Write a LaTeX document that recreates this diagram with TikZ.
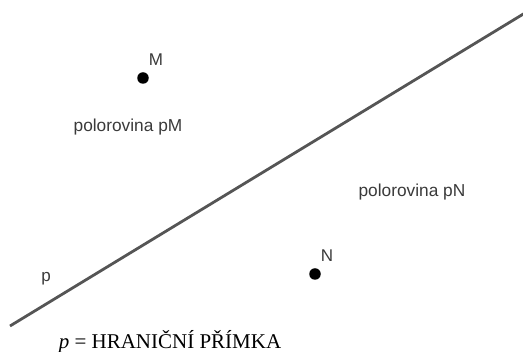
\documentclass[tikz,border=0pt]{standalone}
\usepackage{fontspec}
\setmainfont{Liberation Serif}
\setsansfont{Liberation Sans}
\usepackage{xcolor}
\usetikzlibrary{positioning,calc}
\definecolor{linegray}{HTML}{555555}
\definecolor{textgray}{HTML}{3A3A3A}

\begin{document}
\begin{tikzpicture}[x=1pt, y=-1pt,
    bod/.style={circle, fill=black, inner sep=0pt, minimum size=11.5pt},
    bodlbl/.style={font=\sffamily\fontsize{17}{19}\selectfont, text=textgray, inner sep=0pt},
    rovina/.style={font=\sffamily\fontsize{17.3}{19}\selectfont, text=textgray, inner sep=0pt},
    primka/.style={draw=linegray, line width=2.8pt},
]
\useasboundingbox (0,0) rectangle (523,352);

% boundary line p
\coordinate (pA) at (10,326);
\coordinate (pB) at (525,13);
\draw[primka] (pA) -- (pB);
\node[bodlbl] (plbl) at (46,279) {p};

% points M and N
\node[bod] (M) at (143,78) {};
\node[bodlbl] (Mlbl) at (156,60) {M};
\node[bod] (N) at (315,274) {};
\node[bodlbl] (Nlbl) at (327,256) {N};

% half-planes
\node[rovina] (pM) at (128,127) {polorovina pM};
\node[rovina] (pN) at (412,192) {polorovina pN};

% caption
\node[font=\fontsize{21}{23}\selectfont, inner sep=0pt] (popis) at (170,342)
    {\textit{p} = HRANIČNÍ PŘÍMKA};
\end{tikzpicture}
\end{document}
